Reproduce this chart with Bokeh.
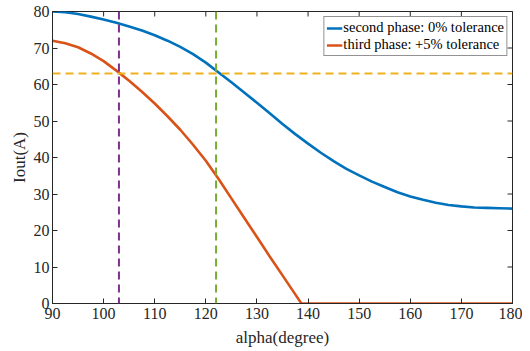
import math
from bokeh.plotting import figure
from bokeh.models import Span, Range1d, Legend, LegendItem, FixedTicker
from bokeh.embed import file_html
from bokeh.resources import INLINE

alpha_blue = [90, 92.5, 95, 97.5, 100, 102.5, 105, 107.5, 110, 112.5, 115, 117.5, 120, 122.5,
              125, 127.5, 130, 132.5, 135, 137.5, 140, 142.5, 145, 147.5, 150, 152.5, 155,
              157.5, 160, 162.5, 165, 167.5, 170, 172.5, 175, 177.5, 180]
iout_blue = [80, 79.8, 79.3, 78.6, 77.8, 76.9, 75.9, 74.8, 73.5, 72.0, 70.3, 68.3, 66.0, 63.3,
             60.6, 57.8, 55.0, 52.1, 49.2, 46.4, 43.8, 41.3, 39.0, 36.9, 35.1, 33.4, 31.9,
             30.5, 29.3, 28.4, 27.6, 27.0, 26.6, 26.3, 26.2, 26.1, 26.0]
alpha_red = [90, 92.5, 95, 97.5, 100, 102.5, 105, 107.5, 110, 112.5, 115, 117.5, 120, 122.5,
             125, 127.5, 130, 132.5, 135, 137.5, 138.7, 140, 150, 160, 170, 180]
iout_red = [72, 71.3, 70.2, 68.5, 66.4, 63.8, 61.0, 58.0, 54.8, 51.3, 47.6, 43.5, 39.1, 34.1,
            28.8, 23.5, 18.2, 12.9, 7.7, 2.5, 0, 0, 0, 0, 0, 0]
vline_purple = 103
vline_green = 122
hline_yellow = 63
x_ticks = [90, 100, 110, 120, 130, 140, 150, 160, 170, 180]
y_ticks = [0, 10, 20, 30, 40, 50, 60, 70, 80]
labels = ["second phase: 0% tolerance", "third phase: +5% tolerance"]

FONT = "'Liberation Serif', 'Times New Roman', serif"
AX = "#262626"
XMIN, XMAX, YMIN, YMAX = 90, 180, 0, 80

p = figure(width=522, height=351, output_backend="svg", toolbar_location=None,
           x_range=Range1d(XMIN, XMAX), y_range=Range1d(YMIN, YMAX),
           min_border_left=52, min_border_right=10, min_border_top=11, min_border_bottom=48)
p.background_fill_color = "white"
p.border_fill_color = "white"
p.outline_line_color = AX
p.outline_line_width = 1
p.grid.visible = False

for ax in [p.xaxis[0], p.yaxis[0]]:
    ax.major_tick_in = 5
    ax.major_tick_out = 0
    ax.minor_tick_in = 0
    ax.minor_tick_out = 0
    ax.axis_line_color = AX
    ax.major_tick_line_color = AX
    ax.major_label_text_font = FONT
    ax.major_label_text_font_size = "16px"
    ax.major_label_text_color = AX
    ax.axis_label_text_font = FONT
    ax.axis_label_text_font_size = "17px"
    ax.axis_label_text_font_style = "normal"
    ax.axis_label_text_color = AX
p.xaxis[0].ticker = FixedTicker(ticks=x_ticks)
p.yaxis[0].ticker = FixedTicker(ticks=y_ticks)
p.xaxis[0].axis_label = "alpha(degree)"
p.yaxis[0].axis_label = "Iout(A)"
p.xaxis[0].major_label_standoff = 4
p.xaxis[0].axis_label_standoff = 6
p.yaxis[0].major_label_standoff = 3
p.yaxis[0].axis_label_standoff = 2

# inward ticks on the top and right edges (box on), clipped to the frame
p.scatter(x_ticks, [YMAX] * len(x_ticks), marker="dash", angle=math.pi / 2, size=10,
          line_color=AX, line_width=1)
p.scatter([XMAX] * len(y_ticks), y_ticks, marker="dash", size=10,
          line_color=AX, line_width=1)

r1 = p.line(alpha_blue, iout_blue, line_color="#0072BD", line_width=2.6)
r2 = p.line(alpha_red, iout_red, line_color="#D95319", line_width=2.6)

p.add_layout(Span(location=vline_purple, dimension="height", line_color="#7E2F8E",
                  line_dash="8 5", line_width=2))
p.add_layout(Span(location=vline_green, dimension="height", line_color="#77AC30",
                  line_dash="8 5", line_width=2))
p.add_layout(Span(location=hline_yellow, dimension="width", line_color="#EDB120",
                  line_dash="8 5", line_width=2))

legend = Legend(items=[LegendItem(label=labels[0], renderers=[r1]),
                       LegendItem(label=labels[1], renderers=[r2])],
                location="top_right")
legend.label_text_font = FONT
legend.label_text_font_size = "14.5px"
legend.label_text_color = "black"
legend.label_standoff = 1
legend.glyph_width = 16
legend.glyph_height = 16
legend.label_height = 16
legend.spacing = 0
legend.padding = 2
legend.margin = 5
legend.border_line_color = AX
legend.border_line_width = 1
legend.background_fill_alpha = 1
p.add_layout(legend)

open("out.html", "w").write(file_html(p, INLINE))
